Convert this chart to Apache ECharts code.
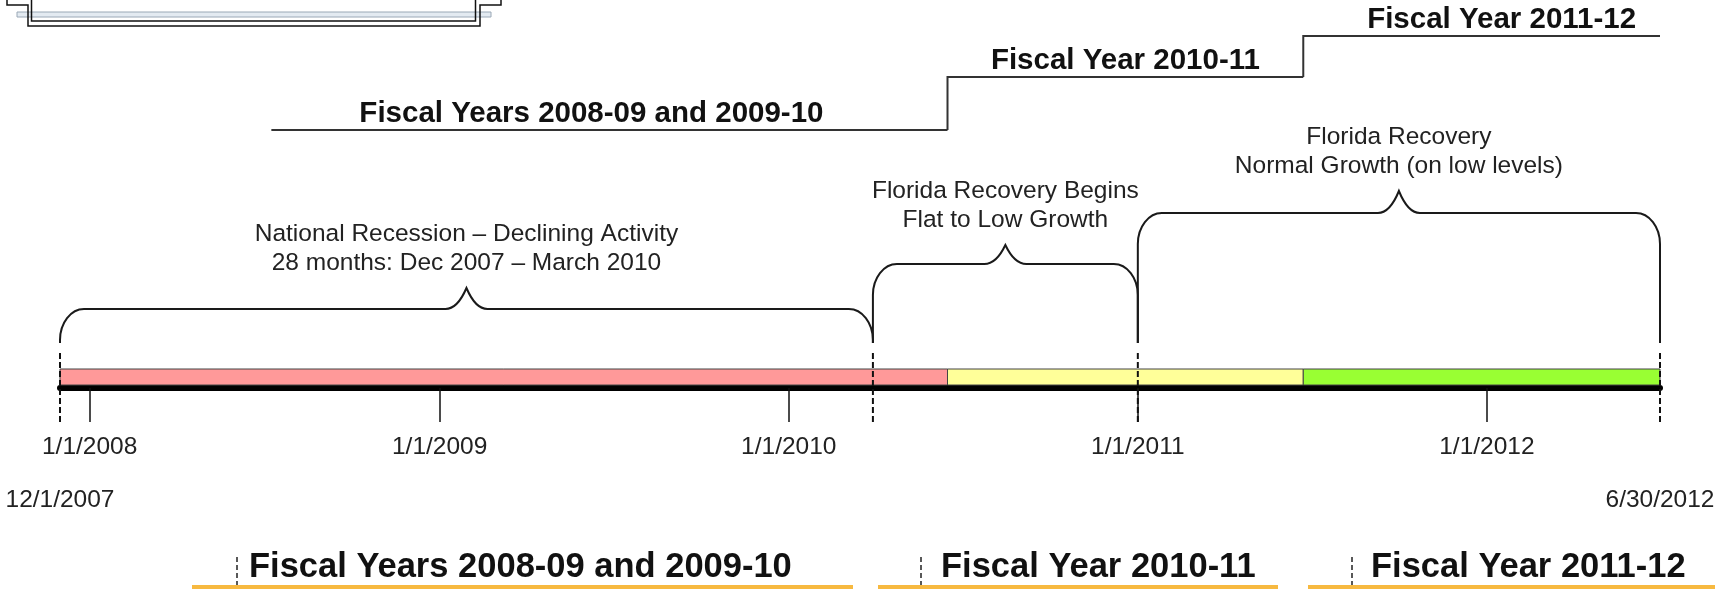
<!DOCTYPE html>
<html>
<head>
<meta charset="utf-8">
<script src="https://cdn.jsdelivr.net/npm/echarts@6/dist/echarts.min.js"></script>
<style>
  html, body { margin: 0; padding: 0; background: #fff; }
  #chart { width: 1715px; height: 589px; }
</style>
</head>
<body>
<div id="chart"></div>
<script>
// timeline data
const axisStart = '2007-12-01';
const axisEnd = '2012-06-30';
const yearTicks = ['2008-01-01', '2009-01-01', '2010-01-01', '2011-01-01', '2012-01-01'];

const phaseStarts = ['2007-12-01', '2010-06-16', '2011-06-23'];
const phaseEnds = ['2010-06-16', '2011-06-23', '2012-06-30'];

const markerDates = ['2007-12-01', '2010-03-30', '2011-01-01', '2012-06-30'];

const periodStarts = ['2007-12-01', '2010-03-30', '2011-01-01'];
const periodEnds = ['2010-03-30', '2011-01-01', '2012-06-30'];
const periodLine1 = ['National Recession \u2013 Declining Activity', 'Florida Recovery Begins', 'Florida Recovery'];
const periodLine2 = ['28 months: Dec 2007 \u2013 March 2010', 'Flat to Low Growth', 'Normal Growth (on low levels)'];

const fiscalStarts = ['2008-07-09', '2010-06-16', '2011-06-23'];
const fiscalEnds = ['2010-06-16', '2011-06-23', '2012-06-30'];
const fiscalLabels = ['Fiscal Years 2008-09 and 2009-10', 'Fiscal Year 2010-11', 'Fiscal Year 2011-12'];

// layout (pixels above the axis line)
const phaseColors = ['#ff9999', '#ffff99', '#99ff33'];
const BAR = [3, 19];
const MARK = [35, -34];
const BRACE_BOTTOM = 45;
const braceFlat = [79, 124, 175];
const braceTip = [100, 143, 197];
const fiscalLevel = [258, 311, 352];
const fiscalShift = [-18, 0, 20];
const FOOT = -112;

const FONT = "'Liberation Sans', Arial, sans-serif";

function ts(s) {
    const p = s.split('-').map(Number);
    return new Date(p[0], p[1] - 1, p[2]).getTime();
}
function fmt(v) {
    const d = new Date(v);
    return (d.getMonth() + 1) + '/' + d.getDate() + '/' + d.getFullYear();
}

const chart = echarts.init(document.getElementById('chart'));

function braceItem(params, api) {
    const i = params.dataIndex;
    const a = api.coord([api.value(0), BRACE_BOTTOM]);
    const b = api.coord([api.value(1), BRACE_BOTTOM]);
    const yb = a[1];
    const yf = api.coord([api.value(0), braceFlat[i]])[1];
    const yt = api.coord([api.value(0), braceTip[i]])[1];
    const x1 = a[0], x2 = b[0], xc = (x1 + x2) / 2;
    const rx = 24, ry = Math.min(31, yb - yf), cw = 21, k = 0.45;
    const d = [
        'M', x1, yb, 'L', x1, yf + ry,
        'C', x1, yf + ry * k, x1 + rx * k, yf, x1 + rx, yf,
        'L', xc - cw, yf,
        'C', xc - cw * 0.5, yf, xc - cw * 0.15, yt + (yf - yt) * 0.35, xc, yt,
        'C', xc + cw * 0.15, yt + (yf - yt) * 0.35, xc + cw * 0.5, yf, xc + cw, yf,
        'L', x2 - rx, yf,
        'C', x2 - rx * k, yf, x2, yf + ry * k, x2, yf + ry,
        'L', x2, yb
    ].join(' ');
    return {
        type: 'group',
        children: [
            { type: 'path', shape: { pathData: d }, style: { fill: 'none', stroke: '#1a1a1a', lineWidth: 2 } },
            {
                type: 'text',
                style: {
                    x: xc, y: yt - 10,
                    text: periodLine1[i] + '\n' + periodLine2[i],
                    fontSize: 24.5, fontFamily: FONT, lineHeight: 29,
                    align: 'center', verticalAlign: 'bottom', fill: '#222'
                }
            }
        ]
    };
}

function fiscalItem(params, api) {
    const i = params.dataIndex;
    const s = api.coord([api.value(0), fiscalLevel[i]]);
    const e = api.coord([api.value(1), fiscalLevel[i]]);
    const pts = [];
    if (i > 0) pts.push([s[0], api.coord([api.value(0), fiscalLevel[i - 1]])[1]]);
    pts.push(s, e);
    return {
        type: 'group',
        children: [
            { type: 'polyline', shape: { points: pts }, style: { fill: 'none', stroke: '#333', lineWidth: 2 } },
            {
                type: 'text',
                style: {
                    x: (s[0] + e[0]) / 2 + fiscalShift[i], y: s[1] - 1,
                    text: fiscalLabels[i],
                    fontSize: 29.5, fontWeight: 'bold', fontFamily: FONT,
                    align: 'center', verticalAlign: 'bottom', fill: '#111'
                }
            }
        ]
    };
}

// footer row and the cut-off title frame are page decoration
const footLines = [[192, 853], [878, 1278], [1308, 1715]];
const footX = [249, 941, 1371];
const footDash = [237, 921, 1352];
const graphics = [];
footLines.forEach(function (l) {
    graphics.push({ type: 'line', shape: { x1: l[0], y1: 587, x2: l[1], y2: 587 }, style: { stroke: '#f7b940', lineWidth: 4 } });
});
footDash.forEach(function (x) {
    graphics.push({ type: 'line', shape: { x1: x, y1: 557, x2: x, y2: 585 }, style: { stroke: '#222', lineWidth: 1.5, lineDash: [5, 3] } });
});
fiscalLabels.forEach(function (t, i) {
    graphics.push({
        type: 'text', style: {
            x: footX[i], y: 585, text: t, fontSize: 34.5, fontWeight: 'bold', fontFamily: FONT,
            align: 'left', verticalAlign: 'bottom', fill: '#111'
        }
    });
});
graphics.push(
    { type: 'rect', shape: { x: 17, y: 12, width: 474, height: 5 }, style: { fill: '#e3eaf1', stroke: '#9aa8b6', lineWidth: 1 } },
    { type: 'polyline', shape: { points: [[7, 0], [7, 5], [28, 5], [28, 26], [480, 26], [480, 5], [501, 5], [501, 0]] }, style: { fill: 'none', stroke: '#111', lineWidth: 1.5 } },
    { type: 'polyline', shape: { points: [[31.5, 0], [31.5, 21], [475.5, 21], [475.5, 0]] }, style: { fill: 'none', stroke: '#111', lineWidth: 1.5 } }
);

chart.setOption({
    animation: false,
    backgroundColor: '#fff',
    grid: { left: 60, right: 55, top: 0, bottom: 201, containLabel: false, outerBoundsMode: 'none' },
    xAxis: {
        type: 'value',
        min: ts(axisStart),
        max: ts(axisEnd),
        axisLine: { onZero: false, lineStyle: { color: '#000', width: 6 } },
        axisTick: {
            show: true, length: 34, inside: false,
            customValues: yearTicks.map(ts),
            lineStyle: { color: '#111', width: 1.5 }
        },
        axisLabel: {
            customValues: yearTicks.map(ts),
            formatter: fmt,
            margin: 47,
            fontSize: 24.5, fontFamily: FONT, color: '#222'
        },
        splitLine: { show: false },
        minorTick: { show: false }
    },
    yAxis: { type: 'value', min: 0, max: 388, show: false, splitLine: { show: false } },
    series: [
        {
            type: 'custom',
            clip: false,
            data: phaseStarts.map(function (s, i) { return [ts(s), ts(phaseEnds[i]), 0]; }),
            encode: { x: [0, 1], y: 2 },
            renderItem: function (params, api) {
                const p = api.coord([api.value(0), BAR[1]]);
                const q = api.coord([api.value(1), BAR[0]]);
                return {
                    type: 'rect',
                    shape: { x: p[0], y: p[1], width: q[0] - p[0], height: q[1] - p[1] },
                    style: { fill: phaseColors[params.dataIndex], stroke: '#444', lineWidth: 1 }
                };
            }
        },
        {
            type: 'custom',
            clip: false,
            data: markerDates.map(function (s) { return [ts(s), 0]; }),
            encode: { x: 0, y: 1 },
            z: 5,
            renderItem: function (params, api) {
                const p = api.coord([api.value(0), MARK[0]]);
                const q = api.coord([api.value(0), MARK[1]]);
                return {
                    type: 'line',
                    shape: { x1: p[0], y1: p[1], x2: q[0], y2: q[1] },
                    style: { stroke: '#111', lineWidth: 2, lineDash: [6, 3] }
                };
            }
        },
        {
            type: 'custom',
            clip: false,
            data: periodStarts.map(function (s, i) { return [ts(s), ts(periodEnds[i]), 0]; }),
            encode: { x: [0, 1], y: 2 },
            renderItem: braceItem
        },
        {
            type: 'custom',
            clip: false,
            data: fiscalStarts.map(function (s, i) { return [ts(s), ts(fiscalEnds[i]), 0]; }),
            encode: { x: [0, 1], y: 2 },
            renderItem: fiscalItem
        },
        {
            type: 'custom',
            clip: false,
            data: [[ts(axisStart), 0], [ts(axisEnd), 0]],
            encode: { x: 0, y: 1 },
            renderItem: function (params, api) {
                const p = api.coord([api.value(0), FOOT]);
                return {
                    type: 'text',
                    style: {
                        x: p[0], y: p[1], text: fmt(api.value(0)),
                        fontSize: 24.5, fontFamily: FONT, align: 'center', verticalAlign: 'middle', fill: '#222'
                    }
                };
            }
        }
    ],
    graphic: graphics
});
</script>
</body>
</html>
